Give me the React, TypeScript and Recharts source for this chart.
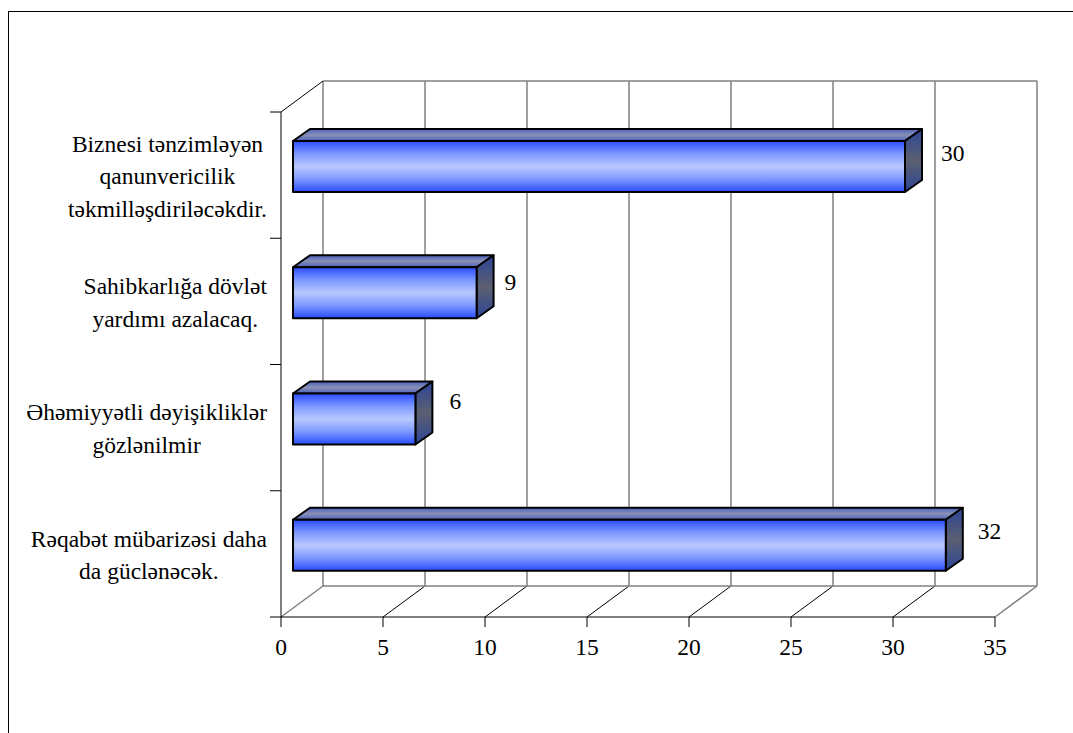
import React from 'react';
import { BarChart, Bar, XAxis, YAxis, CartesianGrid, LabelList, usePlotArea } from 'recharts';

const categories = [
  'Biznesi tənzimləyən\nqanunvericilik\ntəkmilləşdiriləcəkdir.',
  'Sahibkarlığa dövlət\nyardımı azalacaq.',
  'Əhəmiyyətli dəyişikliklər\ngözlənilmir',
  'Rəqabət mübarizəsi daha\nda güclənəcək.',
];
const values = [30, 9, 6, 32];
const xTicks = [0, 5, 10, 15, 20, 25, 30, 35];

const chartData = categories.map((name, i) => ({ name, value: values[i] }));

const FONT = '"Liberation Serif", "Times New Roman", serif';
const FONT_SIZE = 23.5;
const LINE_GAP = 32.5;
const GRAY = '#808080';

// the fake 3D box: back wall offset, bar offset from the axis plane, bar depth
const WALL = { dx: 42, dy: -31 };
const BAR_OFFSET = { dx: 12, dy: -9 };
const BAR_DEPTH = { dx: 17, dy: -12 };

// hand placed value labels in the original: [right of bar end, above band centre]
const labelNudge = [
  [48, -23],
  [40, -20],
  [46, -27],
  [44, -23],
];

function textWidth(line: string) {
  const ctx = document.createElement('canvas').getContext('2d');
  if (!ctx) return line.length * FONT_SIZE * 0.45;
  ctx.font = `${FONT_SIZE}px ${FONT}`;
  return ctx.measureText(line).width;
}

const CategoryTick = (props: any) => {
  const { x, y, payload } = props;
  const lines: string[] = String(payload.value).split('\n');
  const widest = Math.max(...lines.map(textWidth));
  const cx = x - widest / 2;
  const top = y + 1 - ((lines.length - 1) * LINE_GAP) / 2;
  return (
    <g>
      {lines.map((line, i) => (
        <text
          key={i}
          x={cx}
          y={top + i * LINE_GAP}
          textAnchor="middle"
          dominantBaseline="central"
          fontFamily={FONT}
          fontSize={FONT_SIZE}
          fill="#000"
        >
          {line}
        </text>
      ))}
    </g>
  );
};

const NumberTick = (props: any) => {
  const { x, y, payload } = props;
  return (
    <text x={x} y={y + 18} textAnchor="middle" dominantBaseline="central" fontFamily={FONT} fontSize={FONT_SIZE} fill="#000">
      {payload.value}
    </text>
  );
};

const Box3D = (props: any) => {
  const { x, y, width, height } = props;
  const fx = x + BAR_OFFSET.dx;
  const fy = y + BAR_OFFSET.dy;
  const { dx, dy } = BAR_DEPTH;
  const r = fx + width;
  const b = fy + height;
  return (
    <g stroke="#000" strokeWidth={2} strokeLinejoin="round">
      <polygon points={`${fx},${fy} ${fx + dx},${fy + dy} ${r + dx},${fy + dy} ${r},${fy}`} fill="url(#barTop)" />
      <polygon points={`${r},${fy} ${r + dx},${fy + dy} ${r + dx},${b + dy} ${r},${b}`} fill="url(#barSide)" />
      <rect x={fx} y={fy} width={width} height={height} fill="url(#barFront)" />
    </g>
  );
};

const ValueLabel = (props: any) => {
  const { x, y, width, height, value, index } = props;
  const [nx, ny] = labelNudge[index];
  return (
    <text
      x={x + width + nx}
      y={y + height / 2 + ny}
      dominantBaseline="central"
      fontFamily={FONT}
      fontSize={FONT_SIZE}
      fill="#000"
    >
      {value}
    </text>
  );
};

// back wall edges, left wall and the category tick marks at band edges
const Walls = () => {
  const plot = usePlotArea();
  if (!plot) return null;
  const { x, y, width, height } = plot;
  const band = height / categories.length;
  const bx = x + WALL.dx;
  const by = y + WALL.dy;
  return (
    <g>
      <line x1={bx} y1={by} x2={bx + width} y2={by} stroke={GRAY} strokeWidth={1.5} />
      <line x1={bx} y1={by + height} x2={bx + width} y2={by + height} stroke={GRAY} strokeWidth={1.5} />
      <line x1={x} y1={y} x2={bx} y2={by} stroke="#000" />
      {categories.map((_, i) => (
        <line key={i} x1={x - 11} y1={y + i * band} x2={x} y2={y + i * band} stroke="#000" />
      ))}
      <line x1={x - 11} y1={y + height} x2={x} y2={y + height} stroke="#000" />
    </g>
  );
};

// each vertical grid line is drawn on the back wall, with its diagonal on the floor
const WallGridLine = (props: any) => {
  const { x1, y1, y2, index } = props;
  const edge = index === 0 || index === xTicks.length - 1;
  return (
    <g>
      <line x1={x1 + WALL.dx} y1={y1 + WALL.dy} x2={x1 + WALL.dx} y2={y2 + WALL.dy} stroke={GRAY} strokeWidth={1.5} />
      <line x1={x1} y1={y2} x2={x1 + WALL.dx} y2={y2 + WALL.dy} stroke={edge ? GRAY : '#000'} strokeWidth={edge ? 1.5 : 1} />
    </g>
  );
};

export default function App() {
  return (
    <div style={{ position: 'absolute', left: 0, top: 0, width: 1073, height: 733, overflow: 'hidden', background: '#fff' }}>
      <svg width={1073} height={733} style={{ position: 'absolute', left: 0, top: 0 }}>
        <rect x={8.5} y={11.5} width={1200} height={900} fill="none" stroke="#000" strokeWidth={1} />
      </svg>
      <div style={{ position: 'absolute', left: 0, top: 0 }}>
        <BarChart
          width={1073}
          height={733}
          layout="vertical"
          data={chartData}
          margin={{ top: 112, right: 78, bottom: 76, left: 0 }}
        >
          <defs>
            <linearGradient id="barFront" x1="0" y1="0" x2="0" y2="1">
              <stop offset="0%" stopColor="#2a4cff" />
              <stop offset="25%" stopColor="#7c98ff" />
              <stop offset="50%" stopColor="#b8c8ff" />
              <stop offset="75%" stopColor="#7c98ff" />
              <stop offset="100%" stopColor="#2a4cff" />
            </linearGradient>
            <linearGradient id="barTop" x1="0" y1="0" x2="0" y2="1">
              <stop offset="0%" stopColor="#4a60c0" />
              <stop offset="50%" stopColor="#8a90b4" />
              <stop offset="100%" stopColor="#4a60c0" />
            </linearGradient>
            <linearGradient id="barSide" x1="0" y1="0" x2="0" y2="1">
              <stop offset="0%" stopColor="#2c4498" />
              <stop offset="50%" stopColor="#5c6070" />
              <stop offset="100%" stopColor="#2c4498" />
            </linearGradient>
          </defs>
          <CartesianGrid horizontal={false} vertical={(p: any) => <WallGridLine key={p.index} {...p} />} />
          <Walls />
          <XAxis
            type="number"
            domain={[0, 35]}
            ticks={xTicks}
            interval={0}
            height={40}
            stroke="#000"
            tickSize={10}
            tick={<NumberTick />}
          />
          <YAxis
            type="category"
            dataKey="name"
            width={281}
            interval={0}
            stroke="#000"
            tickLine={false}
            tickSize={0}
            tickMargin={14}
            tick={<CategoryTick />}
          />
          <Bar dataKey="value" barSize={51} shape={<Box3D />} isAnimationActive={false}>
            <LabelList dataKey="value" content={<ValueLabel />} />
          </Bar>
        </BarChart>
      </div>
    </div>
  );
}
